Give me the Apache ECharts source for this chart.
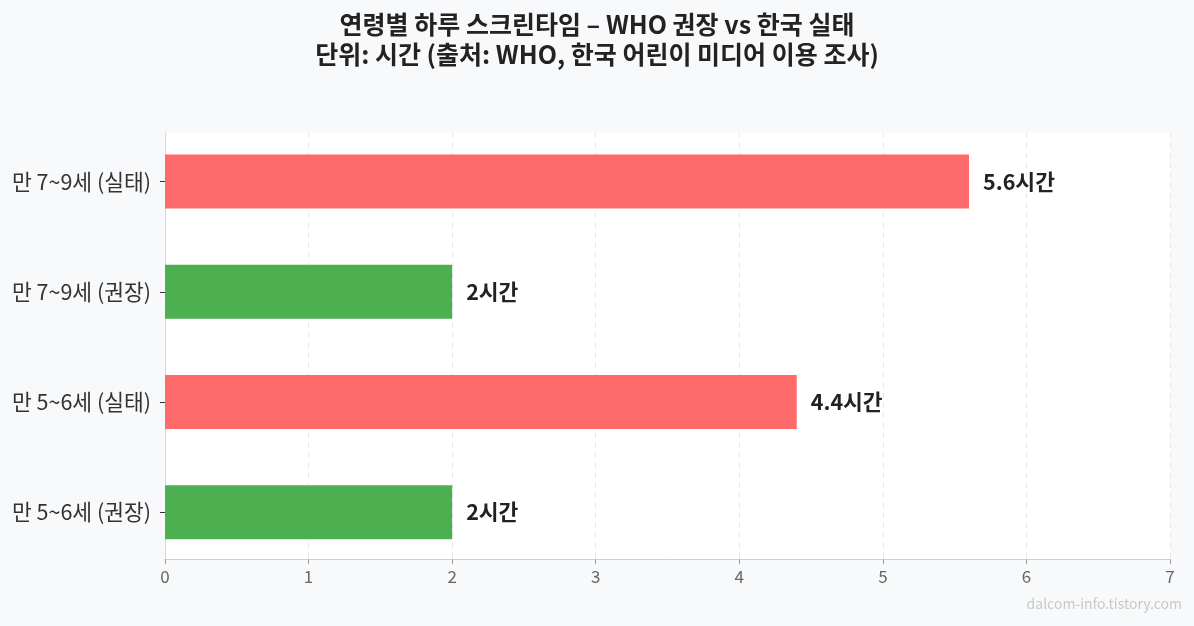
<!DOCTYPE html>
<html><head><meta charset="utf-8">
<script src="https://cdn.jsdelivr.net/npm/echarts@6/dist/echarts.min.js"></script>
<style>html,body{margin:0;padding:0;background:#f8f9fb;}#c{width:1194px;height:626px;}</style>
</head><body><div id="c"></div>
<script>
const categories = ['만 5~6세 (권장)', '만 5~6세 (실태)', '만 7~9세 (권장)', '만 7~9세 (실태)'];
const values = [2, 4.4, 2, 5.6];
const barColors = ['#4caf50', '#ff6b6b', '#4caf50', '#ff6b6b'];
const xTicks = [0, 1, 2, 3, 4, 5, 6, 7];
const FONT = '"Noto Sans CJK KR", "Noto Sans", sans-serif';
const chart = echarts.init(document.getElementById('c'));
chart.setOption({
  backgroundColor: '#f8f9fb',
  textStyle: { fontFamily: FONT },
  title: {
    text: '연령별 하루 스크린타임 – WHO 권장 vs 한국 실태\n단위: 시간 (출처: WHO, 한국 어린이 미디어 이용 조사)',
    left: 'center', top: 4,
    textStyle: { fontFamily: FONT, fontSize: 25, fontWeight: 'bold', color: '#222', lineHeight: 30 }
  },
  graphic: [{
    type: 'text', right: 12, top: 597,
    style: { text: 'dalcom-info.tistory.com', fill: '#c8c8c8', fontSize: 14, fontFamily: FONT }
  }],
  grid: [
    { left: 165, right: 24, top: 126.5, bottom: 58.6, show: false },
    { left: 165, right: 24, top: 132.7, bottom: 66.7, show: true, backgroundColor: '#ffffff', borderWidth: 0 }
  ],
  xAxis: [
    { type: 'value', gridIndex: 0, min: xTicks[0], max: xTicks[xTicks.length - 1], interval: 1, show: false },
    {
      type: 'value', gridIndex: 1, min: xTicks[0], max: xTicks[xTicks.length - 1], interval: 1,
      axisLine: { show: true, lineStyle: { color: '#d0d0d0' } },
      axisTick: { show: true, length: 5, lineStyle: { color: '#999' } },
      axisLabel: { color: '#666', fontSize: 17, margin: 9, fontFamily: FONT },
      splitLine: { show: true, lineStyle: { color: '#e6e6e6', type: [5, 5] } }
    }
  ],
  yAxis: [
    {
      type: 'category', gridIndex: 0, data: categories,
      axisLine: { show: false },
      axisTick: { show: true, alignWithLabel: true, length: 5, lineStyle: { color: '#333' } },
      axisLabel: { color: '#333', fontSize: 21.5, margin: 14, fontFamily: FONT }
    },
    {
      type: 'value', gridIndex: 1, min: 0, max: 1,
      axisLine: { show: true, lineStyle: { color: '#d8d8d8' } },
      axisTick: { show: false }, axisLabel: { show: false }, splitLine: { show: false }
    }
  ],
  series: [{
    type: 'bar', xAxisIndex: 0, yAxisIndex: 0, barWidth: '49%',
    data: values.map((v, i) => ({ value: v, itemStyle: { color: barColors[i] } })),
    label: {
      show: true, position: 'right', distance: 14,
      formatter: p => p.value + '시간',
      fontSize: 21.5, fontWeight: 'bold', color: '#222', fontFamily: FONT
    }
  }]
});
</script></body></html>
